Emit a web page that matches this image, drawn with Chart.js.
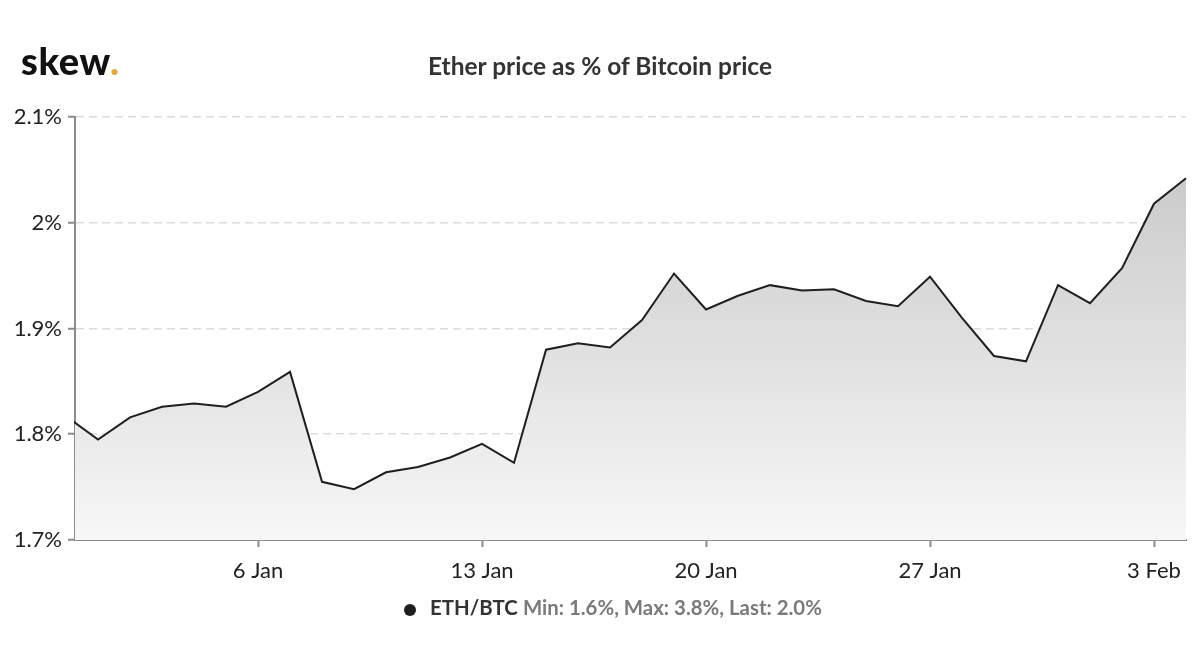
<!DOCTYPE html>
<html>
<head>
<meta charset="utf-8">
<script src="https://cdn.jsdelivr.net/npm/chart.js@4/dist/chart.umd.min.js"></script>
<style>
  html, body { margin: 0; padding: 0; background: #fff; }
  body { width: 1200px; height: 670px; position: relative; overflow: hidden; font-family: Lato, sans-serif; }
  #wrap { position: absolute; left: 0; top: 0; width: 1200px; height: 670px; }
  .logo { position: absolute; left: 21px; top: 37px; font-size: 38px; line-height: 46px; font-weight: 900; color: #111; letter-spacing: 0.6px; }
  .logo span { color: #e8a838; }
  .title { position: absolute; left: 0; width: 1200px; top: 51px; line-height: 30px; text-align: center; font-size: 24.5px; font-weight: 700; color: #333; }
  .legend { position: absolute; left: 404px; top: 594px; line-height: 26px; font-size: 20.4px; white-space: nowrap; }
  .legend .dot { display: inline-block; width: 12px; height: 12px; border-radius: 50%; background: #1e1e1e; margin-right: 14px; vertical-align: -1px; }
  .legend b { color: #333; font-weight: 700; }
  .legend .stats { color: #7a7a7a; font-weight: 700; }
</style>
</head>
<body>
<div id="wrap"><canvas id="chart" width="1200" height="670"></canvas></div>
<div class="logo">skew<span>.</span></div>
<div class="title">Ether price as % of Bitcoin price</div>
<div class="legend"><span class="dot"></span><b>ETH/BTC</b> <span class="stats">Min: 1.6%, Max: 3.8%, Last: 2.0%</span></div>
<script>
// день от 31 декабря (0) до 4 февраля (35)
const days = [0, 1, 2, 3, 4, 5, 6, 7, 8, 9, 10, 11, 12, 13, 14, 15, 16, 17,
  18, 19, 20, 21, 22, 23, 24, 25, 26, 27, 28, 29, 30, 31, 32, 33, 34, 35];
const ethBtc = [1.817, 1.795, 1.816, 1.826, 1.829, 1.826, 1.840, 1.859, 1.755,
  1.748, 1.764, 1.769, 1.778, 1.791, 1.773, 1.880, 1.886, 1.882, 1.908, 1.952,
  1.918, 1.931, 1.941, 1.936, 1.937, 1.926, 1.921, 1.949, 1.910, 1.874, 1.869,
  1.941, 1.924, 1.957, 2.018, 2.042];

const tickDays = [6, 13, 20, 27, 34];
const tickLabels = ["6 Jan", "13 Jan", "20 Jan", "27 Jan", "3 Feb"];
const yTicks = [1.7, 1.8, 1.9, 2.0, 2.1];

const canvasEl = document.getElementById("chart");
const ctx = canvasEl.getContext("2d");

function areaGradient(context) {
  const area = context.chart.chartArea;
  if (!area) return "#ddd";
  const g = context.chart.ctx.createLinearGradient(0, area.top, 0, area.bottom);
  g.addColorStop(0, "#c4c4c6");
  g.addColorStop(1, "#f7f7f7");
  return g;
}

new Chart(ctx, {
  type: "line",
  data: {
    datasets: [
      {
        label: "ETH/BTC",
        data: days.map((d, i) => ({ x: d, y: ethBtc[i] })),
        borderColor: "#1f1f1f",
        borderWidth: 2,
        backgroundColor: areaGradient,
        fill: "start",
        tension: 0,
        pointRadius: 0,
        clip: 1,
      },
    ],
  },
  options: {
    responsive: false,
    animation: false,
    layout: { padding: { top: 117, right: 14, bottom: 80, left: 0 } },
    plugins: { legend: { display: false }, tooltip: { enabled: false } },
    scales: {
      x: {
        type: "linear",
        min: 0.28,
        max: 35,
        afterBuildTicks(scale) {
          scale.ticks = tickDays.map((v) => ({ value: v }));
        },
        afterFit(scale) {
          scale.height = 50;
        },
        ticks: {
          autoSkip: false,
          maxRotation: 0,
          padding: 11,
          color: "#222",
          font: { family: "Lato", size: 22 },
          callback(value) {
            const i = tickDays.indexOf(value);
            return i >= 0 ? tickLabels[i] : "";
          },
        },
        grid: {
          drawOnChartArea: false,
          drawTicks: true,
          tickLength: 7,
          tickColor: "#8c8c8c",
          tickWidth: 2,
        },
        border: { color: "#8c8c8c", width: 2 },
      },
      y: {
        min: 1.7,
        max: 2.1,
        afterBuildTicks(scale) {
          scale.ticks = yTicks.map((v) => ({ value: v }));
        },
        afterFit(scale) {
          scale.width = 75;
        },
        ticks: {
          padding: 6,
          color: "#222",
          font: { family: "Lato", size: 22 },
          callback(value) {
            return Number(value.toFixed(1)) + "%";
          },
        },
        grid: {
          color: "#dcdcdc",
          lineWidth: 1.5,
          drawTicks: true,
          tickLength: 7,
          tickColor: "#8c8c8c",
          tickWidth: 2,
        },
        border: { color: "#8c8c8c", width: 2, dash: [8, 5] },
      },
    },
  },
});
</script>
</body>
</html>
